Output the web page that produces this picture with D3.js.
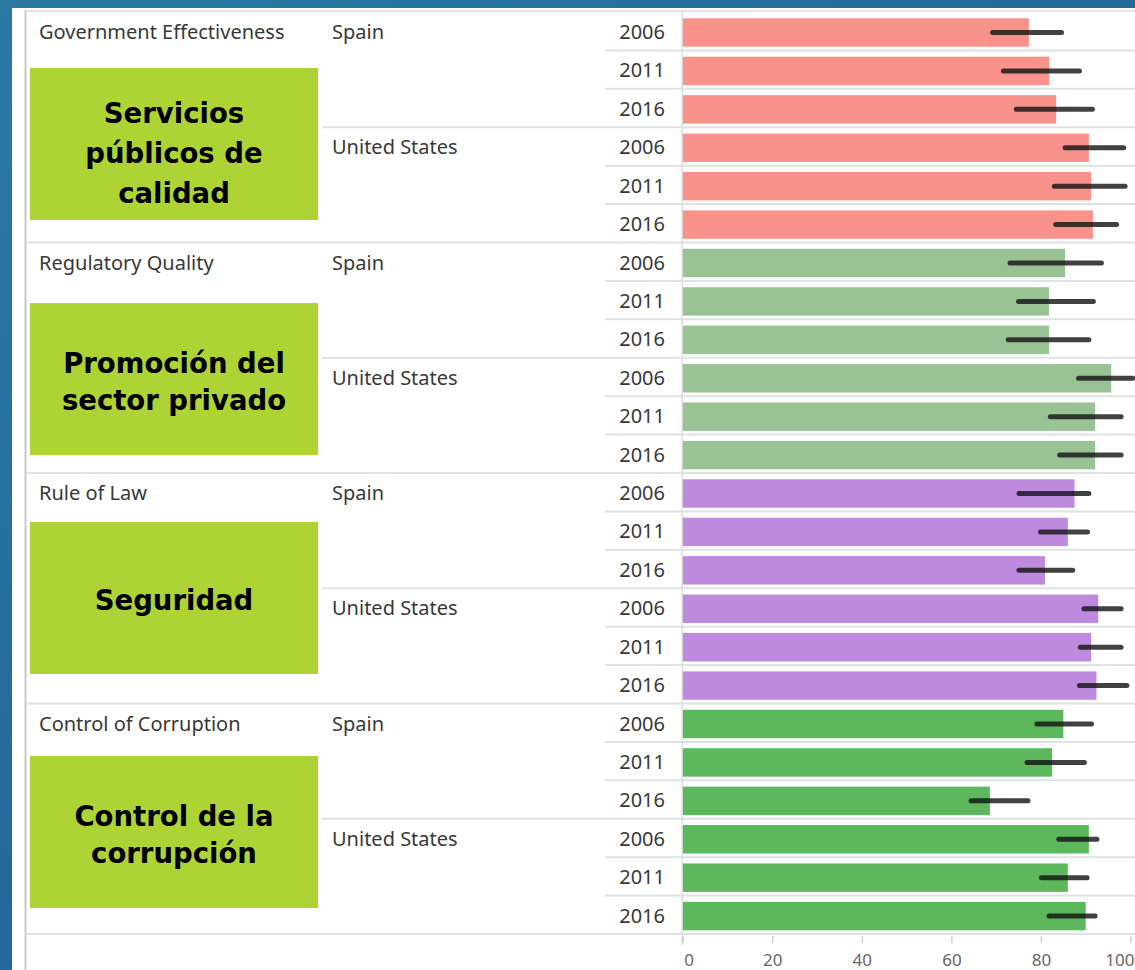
<!DOCTYPE html>
<html>
<head>
<meta charset="utf-8">
<script src="https://cdn.jsdelivr.net/npm/d3@7"></script>
<style>
  html, body { margin: 0; padding: 0; background: #1f5b8c; }
  svg { display: block; }
</style>
</head>
<body>
<svg id="chart" width="1135" height="970"></svg>
<script>
// ---------- DATA ----------
const indicators = ["Government Effectiveness", "Regulatory Quality", "Rule of Law", "Control of Corruption"];
const countries = ["Spain", "United States"];
const years = ["2006", "2011", "2016"];

// percentile rank values per indicator: Spain 2006, 2011, 2016, United States 2006, 2011, 2016
const govEffValues   = [77.3, 81.8, 83.4, 90.7, 91.2, 91.6];
const govEffLower    = [69.2, 71.6, 74.5, 85.4, 83.0, 83.3];
const govEffUpper    = [84.6, 88.6, 91.5, 98.5, 98.8, 96.9];

const regQualValues  = [85.4, 81.8, 81.8, 95.7, 92.1, 92.1];
const regQualLower   = [73.1, 75.0, 72.7, 88.4, 82.1, 84.2];
const regQualUpper   = [93.5, 91.7, 90.7, 100.5, 97.9, 97.9];

const ruleLawValues  = [87.5, 86.0, 80.9, 92.8, 91.2, 92.4];
const ruleLawLower   = [75.1, 79.9, 75.1, 89.6, 88.8, 88.6];
const ruleLawUpper   = [90.7, 90.4, 87.1, 97.9, 97.9, 99.2];

const corrValues     = [85.0, 82.5, 68.6, 90.7, 86.0, 90.0];
const corrLower      = [79.1, 76.9, 64.4, 84.0, 80.1, 81.8];
const corrUpper      = [91.3, 89.7, 77.1, 92.5, 90.3, 92.1];

const seriesValues = [govEffValues, regQualValues, ruleLawValues, corrValues];
const seriesLower  = [govEffLower, regQualLower, ruleLawLower, corrLower];
const seriesUpper  = [govEffUpper, regQualUpper, ruleLawUpper, corrUpper];

const boxLabels = [
  ["Servicios", "públicos de", "calidad"],
  ["Promoción del", "sector privado"],
  ["Seguridad"],
  ["Control de la", "corrupción"]
];
const barColors = ["#f8928a", "#99c394", "#be8ade", "#5db75d"];
const tickValues = [0, 20, 40, 60, 80, 100];

// ---------- BUILD ROWS ----------
const rows = [];
indicators.forEach((ind, ii) => {
  countries.forEach((c, ci) => {
    years.forEach((y, yi) => {
      const k = ci * 3 + yi;
      rows.push({
        indicator: ind, ii, country: c, ci, year: y, yi,
        value: seriesValues[ii][k], lo: seriesLower[ii][k], hi: seriesUpper[ii][k]
      });
    });
  });
});
rows.forEach((r, i) => r.idx = i);

// ---------- LAYOUT ----------
const W = 1135, H = 970;
const svg = d3.select("#chart");

const defs = svg.append("defs");
const grad = defs.append("linearGradient").attr("id", "bg")
  .attr("x1", "0").attr("y1", "0").attr("x2", "1").attr("y2", "1");
grad.append("stop").attr("offset", "0").attr("stop-color", "#2a7aa3");
grad.append("stop").attr("offset", "0.5").attr("stop-color", "#22689a");
grad.append("stop").attr("offset", "1").attr("stop-color", "#1a4f84");

const x = d3.scaleLinear().domain([0, 100]).range([682.7, 1130.5]);
const y = d3.scaleBand().domain(d3.range(rows.length)).range([12, 934]);
const rh = y.bandwidth();

defs.append("clipPath").attr("id", "clipPlot")
  .append("rect").attr("x", x(0)).attr("y", 0).attr("width", W - x(0)).attr("height", H);

svg.append("rect").attr("width", W).attr("height", H).attr("fill", "url(#bg)");
svg.append("rect").attr("x", 12).attr("y", 8).attr("width", W - 12).attr("height", H - 8).attr("fill", "#ffffff");

// left vertical border & top line
svg.append("line").attr("x1", 25.5).attr("x2", 25.5).attr("y1", 10).attr("y2", H)
  .attr("stroke", "#c9c9c6").attr("stroke-width", 2);
svg.append("line").attr("x1", 26).attr("x2", W).attr("y1", 11).attr("y2", 11)
  .attr("stroke", "#e3e3e3").attr("stroke-width", 2);

// separators
svg.append("g").selectAll("line").data(rows).join("line")
  .attr("x1", d => ((d.idx + 1) % 6 === 0) ? 26 : ((d.idx + 1) % 3 === 0 ? 322 : 605))
  .attr("x2", W)
  .attr("y1", d => y(d.idx) + rh)
  .attr("y2", d => y(d.idx) + rh)
  .attr("stroke", "#dde2e2").attr("stroke-width", 2);

// vertical axis line
svg.append("line").attr("x1", x(0) - 0.5).attr("x2", x(0) - 0.5).attr("y1", 12).attr("y2", 945)
  .attr("stroke", "#dcdcdc").attr("stroke-width", 1.5);

// text columns
const textFont = "'Noto Sans', 'Open Sans', sans-serif";
const tg = svg.append("g").attr("font-family", textFont).attr("font-size", 20).attr("fill", "#383838");
tg.selectAll("text.ind").data(rows.filter(r => r.ci === 0 && r.yi === 0)).join("text")
  .attr("class", "ind").attr("x", 39).attr("y", d => y(d.idx) + 27)
  .text(d => d.indicator);
tg.selectAll("text.cty").data(rows.filter(r => r.yi === 0)).join("text")
  .attr("class", "cty").attr("x", 332).attr("y", d => y(d.idx) + 27)
  .text(d => d.country);
tg.selectAll("text.yr").data(rows).join("text")
  .attr("class", "yr").attr("x", 665).attr("y", d => y(d.idx) + 27)
  .attr("text-anchor", "end").text(d => d.year);

// bars
const plot = svg.append("g").attr("clip-path", "url(#clipPlot)");
plot.selectAll("rect.bar").data(rows).join("rect")
  .attr("class", "bar")
  .attr("x", x(0))
  .attr("y", d => y(d.idx) + 6.3)
  .attr("width", d => x(d.value) - x(0))
  .attr("height", rh * 0.74)
  .attr("fill", d => barColors[d.ii]);

// error bars
plot.selectAll("line.err").data(rows).join("line")
  .attr("class", "err")
  .attr("x1", d => x(d.lo)).attr("x2", d => x(d.hi))
  .attr("y1", d => y(d.idx) + 6.3 + rh * 0.37)
  .attr("y2", d => y(d.idx) + 6.3 + rh * 0.37)
  .attr("stroke", "#111").attr("stroke-opacity", 0.8)
  .attr("stroke-width", 5).attr("stroke-linecap", "round");

// axis
const lastTick = tickValues[tickValues.length - 1];
const axis = d3.axisBottom(x).tickValues(tickValues).tickSize(7).tickPadding(0).tickFormat(d3.format("d"));
const ag = svg.append("g").attr("transform", "translate(0,936)").call(axis);
ag.select(".domain").remove();
ag.selectAll(".tick line").attr("stroke", "#d2d2d2").attr("stroke-width", 1.5);
ag.selectAll(".tick text")
  .attr("text-anchor", d => d === 0 ? "start" : (d === lastTick ? "end" : "middle"))
  .attr("x", d => d === 0 ? 1 : (d === lastTick ? (W - 1) - x(lastTick) : 0))
  .attr("y", 30).attr("dy", 0)
  .attr("font-family", textFont).attr("font-size", 17).attr("fill", "#666");

// green boxes
const boxG = svg.append("g");
const boxLayout = indicators.map((ind, ii) => ({ ii, lines: boxLabels[ii] }));
const boxTop = [68, 303, 522, 756];
boxG.selectAll("rect").data(boxLayout).join("rect")
  .attr("x", 30).attr("y", d => boxTop[d.ii]).attr("width", 288).attr("height", 152)
  .attr("fill", "#add335");
boxG.selectAll("text").data(boxLayout).join("text")
  .attr("font-family", "'DejaVu Sans', sans-serif").attr("font-weight", "bold")
  .attr("font-size", 27.5).attr("fill", "#000").attr("text-anchor", "middle")
  .each(function(d) {
    const t = d3.select(this);
    const n = d.lines.length;
    const lh = n === 3 ? 40 : 37;
    const mid = boxTop[d.ii] + 88 + (n === 3 ? 7 : 0);
    d.lines.forEach((ln, k) => {
      t.append("tspan").attr("x", 174)
        .attr("y", mid + (k - (n - 1) / 2) * lh)
        .text(ln);
    });
  });
</script>
</body>
</html>
